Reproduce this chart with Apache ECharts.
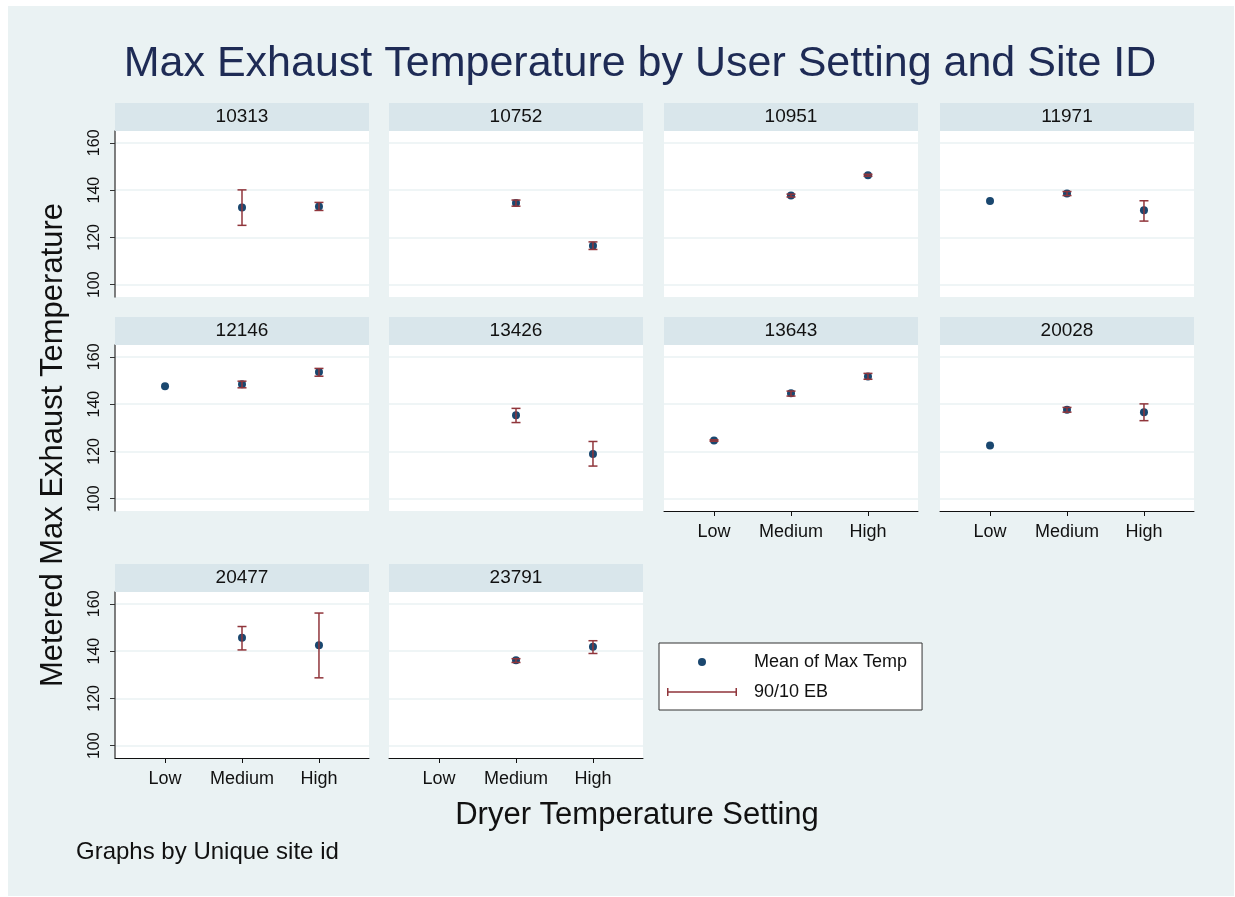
<!DOCTYPE html>
<html>
<head>
<meta charset="utf-8">
<script src="https://cdn.jsdelivr.net/npm/echarts@6/dist/echarts.min.js"></script>
<style>
  html, body { margin: 0; padding: 0; background: #fff; }
  #bg { position: absolute; left: 8px; top: 6px; width: 1226px; height: 890px; background: #eaf2f3; }
  #chart { position: absolute; left: 0; top: 0; width: 1235px; height: 897px; }
</style>
</head>
<body>
<div id="bg"></div>
<div id="chart"></div>
<script>
// datos
const sitios = ['10313', '10752', '10951', '11971', '12146', '13426', '13643', '20028', '20477', '23791'];
const ajustes = ['Low', 'Medium', 'High'];
const posAjuste = [1, 2, 3];
const yTicks = [100, 120, 140, 160];

// media de la temperatura maxima (Low, Medium, High)
const mediaTemp = [
    [null, 132.7, 133.1],
    [null, 134.5, 116.5],
    [null, 137.7, 146.3],
    [135.4, 138.6, 131.5],
    [147.6, 148.4, 153.6],
    [null, 135.3, 118.9],
    [124.6, 144.6, 151.7],
    [122.5, 137.6, 136.6],
    [null, 145.7, 142.5],
    [null, 136.1, 141.8]
];
// percentil 90
const p90Temp = [
    [null, 140.1, 134.8],
    [null, 135.8, 118.1],
    [null, 138.3, 146.7],
    [null, 139.4, 135.5],
    [null, 149.7, 155.1],
    [null, 138.2, 124.2],
    [124.9, 145.5, 153.0],
    [null, 138.6, 140.1],
    [null, 150.4, 156.1],
    [null, 136.8, 144.4]
];
// percentil 10
const p10Temp = [
    [null, 125.1, 131.4],
    [null, 133.2, 114.9],
    [null, 137.1, 145.9],
    [null, 137.7, 126.9],
    [null, 146.9, 151.8],
    [null, 132.2, 113.8],
    [124.3, 143.4, 150.5],
    [null, 136.6, 133.0],
    [null, 140.5, 128.7],
    [null, 135.2, 139.0]
];

const FUENTE = '"Liberation Sans", Arial, sans-serif';
const AZUL = '#1a476f';
const GRANATE = '#90353b';
const FRANJA = '#d9e6eb';

// layout de paneles
const colIzq = [115, 389, 664, 940];
const filaTop = [131, 345, 592];
const anchoPanel = 254;
const altoPanel = 166;
const altoFranja = 28;

const chart = echarts.init(document.getElementById('chart'));

const grids = [], xAxes = [], yAxes = [], series = [], graficos = [];

sitios.forEach((sitio, i) => {
    const fila = Math.floor(i / 4);
    const col = i % 4;
    const abajo = i >= 6;
    const izq = colIzq[col];
    const top = filaTop[fila];

    grids.push({
        left: izq, top: top, width: anchoPanel, height: altoPanel,
        show: true, backgroundColor: '#fff', borderWidth: 0,
        containLabel: false, outerBoundsMode: 'none'
    });

    xAxes.push({
        gridIndex: i, type: 'value', min: 0.35, max: 3.65,
        axisLine: { show: abajo, onZero: false, lineStyle: { color: '#111', width: 1 } },
        axisTick: { show: abajo, length: 5, customValues: posAjuste, lineStyle: { color: '#111' } },
        axisLabel: {
            show: abajo, customValues: posAjuste, margin: 12,
            fontSize: 18, fontFamily: FUENTE, color: '#111',
            formatter: v => ajustes[Math.round(v) - 1]
        },
        splitLine: { show: false }
    });

    yAxes.push({
        gridIndex: i, type: 'value', min: 94.8, max: 165,
        axisLine: { show: col === 0, lineStyle: { color: '#555', width: 1.5 } },
        axisTick: { show: col === 0, length: 5, customValues: yTicks, lineStyle: { color: '#333' } },
        axisLabel: {
            show: col === 0, customValues: yTicks, rotate: 90, margin: 12,
            fontSize: 16, fontFamily: FUENTE, color: '#111'
        },
        splitLine: { show: true, lineStyle: { color: '#eaf2f3', width: 1.5 } }
    });

    const puntos = [];
    const barras = [];
    posAjuste.forEach((x, k) => {
        if (mediaTemp[i][k] != null) puntos.push([x, mediaTemp[i][k]]);
        if (p90Temp[i][k] != null) barras.push([x, p90Temp[i][k], p10Temp[i][k]]);
    });

    series.push({
        name: 'Mean of Max Temp', type: 'scatter',
        xAxisIndex: i, yAxisIndex: i,
        symbolSize: 8, itemStyle: { color: AZUL, opacity: 1 },
        data: puntos, z: 2
    });

    series.push({
        name: '90/10 EB', type: 'custom',
        xAxisIndex: i, yAxisIndex: i,
        itemStyle: { color: GRANATE },
        encode: { x: 0, y: [1, 2] },
        data: barras, z: 3,
        renderItem: function (params, api) {
            const x = api.value(0);
            const alto = api.coord([x, api.value(1)]);
            const bajo = api.coord([x, api.value(2)]);
            const w = 4.5;
            const est = { stroke: GRANATE, lineWidth: 1.5 };
            return {
                type: 'group',
                children: [
                    { type: 'line', shape: { x1: alto[0], y1: alto[1], x2: bajo[0], y2: bajo[1] }, style: est },
                    { type: 'line', shape: { x1: alto[0] - w, y1: alto[1], x2: alto[0] + w, y2: alto[1] }, style: est },
                    { type: 'line', shape: { x1: bajo[0] - w, y1: bajo[1], x2: bajo[0] + w, y2: bajo[1] }, style: est }
                ]
            };
        }
    });

    // franja con el id del sitio
    graficos.push({
        type: 'rect', z: 10,
        shape: { x: izq, y: top - altoFranja, width: anchoPanel, height: altoFranja },
        style: { fill: FRANJA }
    });
    graficos.push({
        type: 'text', z: 11, x: izq + anchoPanel / 2, y: top - altoFranja / 2,
        style: { text: sitio, font: '19px ' + FUENTE, fill: '#111', align: 'center', verticalAlign: 'middle' }
    });
});

// titulos
graficos.push({
    type: 'text', x: 640, y: 64,
    style: { text: 'Max Exhaust Temperature by User Setting and Site ID', font: '43px ' + FUENTE, fill: '#1e2b55', align: 'center', verticalAlign: 'middle' }
});
graficos.push({
    type: 'text', x: 53, y: 445, rotation: Math.PI / 2,
    style: { text: 'Metered Max Exhaust Temperature', font: '31px ' + FUENTE, fill: '#111', align: 'center', verticalAlign: 'middle' }
});
graficos.push({
    type: 'text', x: 637, y: 815,
    style: { text: 'Dryer Temperature Setting', font: '31px ' + FUENTE, fill: '#111', align: 'center', verticalAlign: 'middle' }
});
graficos.push({
    type: 'text', x: 76, y: 852,
    style: { text: 'Graphs by Unique site id', font: '24px ' + FUENTE, fill: '#111', align: 'left', verticalAlign: 'middle' }
});

const opciones = {
    animation: false,
    grid: grids,
    xAxis: xAxes,
    yAxis: yAxes,
    series: series,
    graphic: graficos,
    legend: {
        left: 659, top: 643,
        orient: 'vertical',
        backgroundColor: '#fff',
        borderColor: '#333', borderWidth: 1,
        padding: [9, 15, 8, 8],
        itemWidth: 70, itemHeight: 8, itemGap: 10,
        textStyle: { fontSize: 18, fontFamily: FUENTE, color: '#111', lineHeight: 20, padding: [0, 0, 0, 12] },
        data: [
            { name: 'Mean of Max Temp', icon: 'circle', itemStyle: { color: AZUL } },
            { name: '90/10 EB', icon: 'path://M0,0h1.5v8h-1.5z M0,3.3h70v1.4h-70z M68.5,0h1.5v8h-1.5z', itemStyle: { color: GRANATE } }
        ]
    }
};

chart.setOption(opciones);
</script>
</body>
</html>
